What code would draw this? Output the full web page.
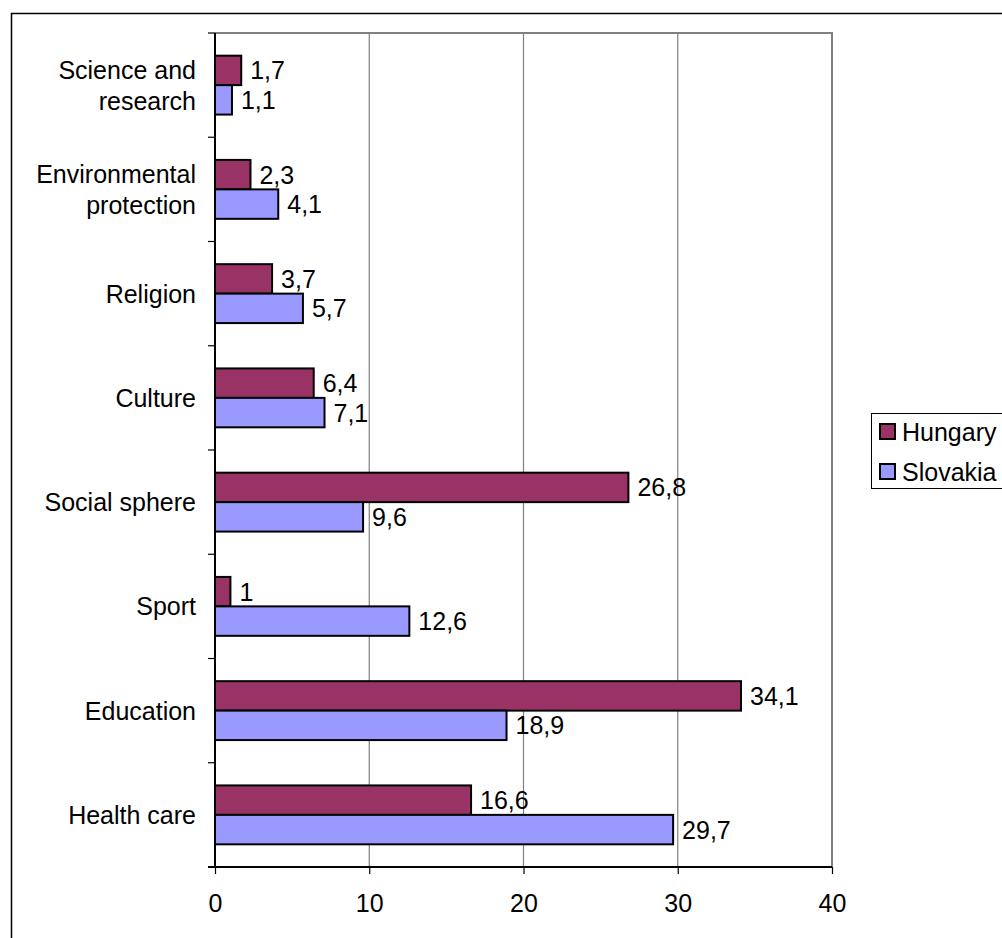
<!DOCTYPE html>
<html>
<head>
<meta charset="utf-8">
<script src="https://cdn.jsdelivr.net/npm/d3@7"></script>
<style>
  body { margin: 0; background: #fff; }
  text { font-family: 'Liberation Sans', Arial, sans-serif; fill: #000; }
</style>
</head>
<body>
<div id="chart"></div>
<script>
const categories = [
  'Science and research',
  'Environmental protection',
  'Religion',
  'Culture',
  'Social sphere',
  'Sport',
  'Education',
  'Health care'
]
const categoryLines = [
  ['Science and', 'research'],
  ['Environmental', 'protection'],
  ['Religion'],
  ['Culture'],
  ['Social sphere'],
  ['Sport'],
  ['Education'],
  ['Health care']
]
const series = ['Hungary', 'Slovakia']
const hungary = [1.7, 2.3, 3.7, 6.4, 26.8, 1, 34.1, 16.6]
const slovakia = [1.1, 4.1, 5.7, 7.1, 9.6, 12.6, 18.9, 29.7]
const xTicks = [0, 10, 20, 30, 40]

const colors = { Hungary: '#993366', Slovakia: '#9999ff' }

const width = 1002
const height = 938
const plot = { left: 215, right: 832, top: 33, bottom: 867 }
const fontSize = 25

const datapoints = categories.map((c, i) => ({
  category: c,
  lines: categoryLines[i],
  values: [
    { key: 'Hungary', value: hungary[i] },
    { key: 'Slovakia', value: slovakia[i] }
  ]
}))

const svg = d3
  .select('#chart')
  .append('svg')
  .attr('width', width)
  .attr('height', height)

// outer frame
svg
  .append('rect')
  .attr('x', 11.5)
  .attr('y', 13.5)
  .attr('width', width)
  .attr('height', height)
  .attr('fill', 'none')
  .attr('stroke', '#000')
  .attr('stroke-width', 1.5)

const xPositionScale = d3
  .scaleLinear()
  .domain([0, 40])
  .range([plot.left, plot.right])

const yPositionScale = d3
  .scaleBand()
  .domain(categories)
  .range([plot.top, plot.bottom])

const barScale = d3
  .scaleBand()
  .domain(series)
  .range([0, yPositionScale.bandwidth()])
  .paddingOuter(0.77)

// gridlines
svg
  .append('g')
  .selectAll('line')
  .data(xTicks.slice(1, -1))
  .enter()
  .append('line')
  .attr('x1', d => xPositionScale(d))
  .attr('x2', d => xPositionScale(d))
  .attr('y1', plot.top)
  .attr('y2', plot.bottom)
  .attr('stroke', '#808080')
  .attr('stroke-width', 1.2)

// plot border top + right
svg
  .append('path')
  .attr('d', `M${plot.left},${plot.top}H${plot.right}V${plot.bottom}`)
  .attr('fill', 'none')
  .attr('stroke', '#808080')
  .attr('stroke-width', 2)

// bars
const groups = svg
  .selectAll('.group')
  .data(datapoints)
  .enter()
  .append('g')
  .attr('class', 'group')
  .attr('transform', d => `translate(0,${yPositionScale(d.category)})`)

groups
  .selectAll('rect')
  .data(d => d.values)
  .enter()
  .append('rect')
  .attr('x', xPositionScale(0))
  .attr('y', d => barScale(d.key))
  .attr('width', d => xPositionScale(d.value) - xPositionScale(0))
  .attr('height', barScale.bandwidth())
  .attr('fill', d => colors[d.key])
  .attr('stroke', '#000')
  .attr('stroke-width', 2)

groups
  .selectAll('.value')
  .data(d => d.values)
  .enter()
  .append('text')
  .attr('class', 'value')
  .attr('x', d => xPositionScale(d.value) + 9)
  .attr('y', d => barScale(d.key) + barScale.bandwidth() / 2)
  .attr('dy', '0.36em')
  .attr('font-size', fontSize)
  .text(d => String(d.value).replace('.', ','))

// y axis
const yAxis = d3
  .axisLeft(yPositionScale)
  .tickSize(0)
  .tickFormat('')

svg
  .append('g')
  .attr('class', 'axis y-axis')
  .attr('transform', `translate(${plot.left},0)`)
  .call(yAxis)

svg.select('.y-axis .domain')
  .attr('stroke', '#000')
  .attr('stroke-width', 2)
  .attr('d', `M0,${plot.top}V${plot.bottom}`)

// category boundary ticks
svg
  .append('g')
  .selectAll('line')
  .data(categories)
  .enter()
  .append('line')
  .attr('x1', plot.left - 7)
  .attr('x2', plot.left)
  .attr('y1', d => yPositionScale(d))
  .attr('y2', d => yPositionScale(d))
  .attr('stroke', '#000')
  .attr('stroke-width', 1.2)

// category labels
const labels = svg
  .append('g')
  .selectAll('text')
  .data(datapoints)
  .enter()
  .append('text')
  .attr('text-anchor', 'end')
  .attr('font-size', fontSize)
  .attr('y', d => yPositionScale(d.category) + yPositionScale.bandwidth() / 2)

labels
  .selectAll('tspan')
  .data(d => d.lines.map((l, i) => ({ l, i, n: d.lines.length })))
  .enter()
  .append('tspan')
  .attr('x', 196)
  .attr('dy', d => (d.i === 0 ? (0.36 - (d.n - 1) * 0.62) + 'em' : '1.24em'))
  .text(d => d.l)

// x axis
const xAxis = d3
  .axisBottom(xPositionScale)
  .tickValues(xTicks)
  .tickSize(7)
  .tickPadding(20)

const xg = svg
  .append('g')
  .attr('class', 'axis x-axis')
  .attr('transform', `translate(0,${plot.bottom})`)
  .call(xAxis)

xg.select('.domain')
  .attr('stroke', '#000')
  .attr('stroke-width', 2)
  .attr('d', `M${plot.left - 7},0H${plot.right}`)
xg.selectAll('.tick line').attr('stroke', '#000').attr('stroke-width', 1.2)
xg.selectAll('.tick text')
  .attr('font-size', fontSize)
  .attr('font-family', "'Liberation Sans', Arial, sans-serif")
  .attr('fill', '#000')

// legend
const legend = svg.append('g').attr('transform', 'translate(871,413)')

legend
  .append('rect')
  .attr('x', 0.5)
  .attr('y', 0.5)
  .attr('width', 140)
  .attr('height', 75)
  .attr('fill', '#fff')
  .attr('stroke', '#000')
  .attr('stroke-width', 1)

const items = legend
  .selectAll('.item')
  .data(series)
  .enter()
  .append('g')
  .attr('class', 'item')
  .attr('transform', (d, i) => `translate(0,${19 + i * 40})`)

items
  .append('rect')
  .attr('x', 9)
  .attr('y', -8)
  .attr('width', 15)
  .attr('height', 15)
  .attr('fill', d => colors[d])
  .attr('stroke', '#000')
  .attr('stroke-width', 2)

items
  .append('text')
  .attr('x', 31)
  .attr('dy', '0.36em')
  .attr('font-size', fontSize)
  .text(d => d)
</script>
</body>
</html>
